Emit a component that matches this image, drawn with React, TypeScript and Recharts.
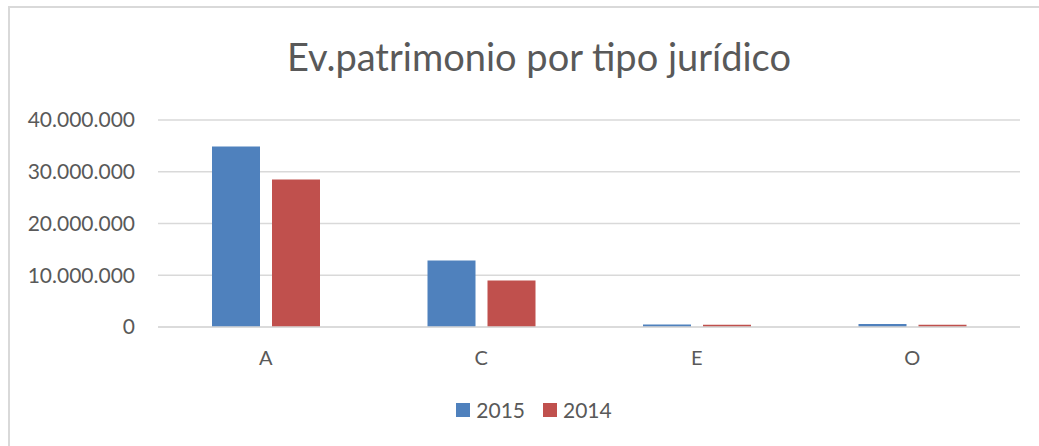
import { Bar, BarChart, CartesianGrid, Legend, XAxis, YAxis } from "recharts";

const categories = ["A", "C", "E", "O"];
const values2015 = [34900000, 12850000, 500000, 600000];
const values2014 = [28500000, 9000000, 450000, 450000];
const yTicks = [0, 10000000, 20000000, 30000000, 40000000];

const data = categories.map((tipo, i) => ({
  tipo,
  v2015: values2015[i],
  v2014: values2014[i],
}));

const BLUE = "#4F81BD";
const RED = "#C0504D";
const TEXT = "#595959";
const GRID = "#d9d9d9";
const FONT = "Lato, 'Noto Sans', sans-serif";

const formatThousands = (value: number) =>
  String(Math.round(value)).replace(/\B(?=(\d{3})+(?!\d))/g, ".");

function LegendContent() {
  const items = [
    { label: "2015", color: BLUE },
    { label: "2014", color: RED },
  ];
  return (
    <div
      style={{
        display: "flex",
        justifyContent: "center",
        alignItems: "center",
        height: 24,
        paddingLeft: 38,
        fontFamily: FONT,
        fontSize: 21,
        lineHeight: "24px",
        color: TEXT,
      }}
    >
      {items.map((item, i) => (
        <div
          key={item.label}
          style={{ display: "flex", alignItems: "center", marginLeft: i ? 18 : 0 }}
        >
          <span
            style={{ width: 14, height: 14, background: item.color, marginRight: 6 }}
          />
          <span>{item.label}</span>
        </div>
      ))}
    </div>
  );
}

export default function App() {
  return (
    <div
      style={{
        position: "absolute",
        top: 6,
        left: 8,
        width: 1031,
        height: 440,
        overflow: "hidden",
        borderTop: `2px solid ${GRID}`,
        borderLeft: `2px solid ${GRID}`,
        background: "#fff",
      }}
    >
      <div
        style={{
          position: "absolute",
          top: 28,
          left: 4,
          width: 1050,
          textAlign: "center",
          fontFamily: FONT,
          fontSize: 38,
          lineHeight: "40px",
          color: TEXT,
        }}
      >
        Ev.patrimonio por tipo jurídico
      </div>
      <BarChart
        width={1050}
        height={440}
        data={data}
        margin={{ top: 112, right: 40, bottom: 10, left: 0 }}
        barSize={48}
        barGap={12}
      >
        <CartesianGrid stroke={GRID} strokeWidth={1.5} vertical={false} />
        <XAxis
          dataKey="tipo"
          height={71}
          tickLine={false}
          tickSize={0}
          tickMargin={24}
          axisLine={{ stroke: GRID, strokeWidth: 1.5 }}
          tick={{ fill: TEXT, fontSize: 20, fontFamily: FONT }}
        />
        <YAxis
          width={148}
          domain={[0, 40000000]}
          ticks={yTicks}
          axisLine={false}
          tickLine={false}
          tickSize={0}
          tickMargin={23}
          tickFormatter={formatThousands}
          tick={{ fill: TEXT, fontSize: 21, fontFamily: FONT }}
        />
        <Legend verticalAlign="bottom" height={40} content={<LegendContent />} />
        <Bar dataKey="v2015" name="2015" fill={BLUE} isAnimationActive={false} />
        <Bar dataKey="v2014" name="2014" fill={RED} isAnimationActive={false} />
      </BarChart>
    </div>
  );
}
